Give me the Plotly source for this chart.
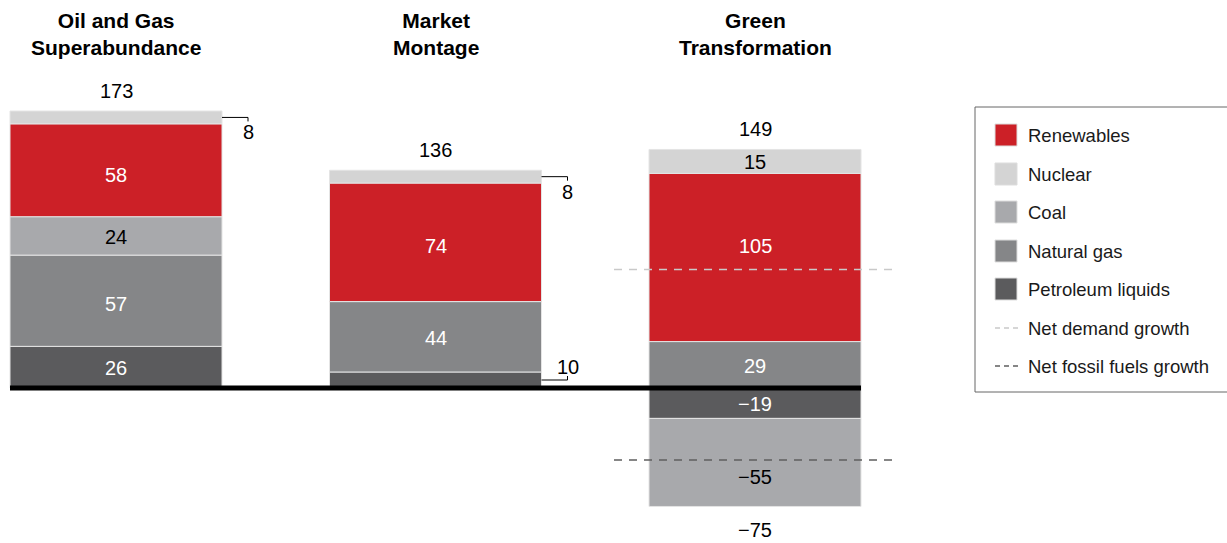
import plotly.graph_objects as go

# Scenario categories and per-source growth values
scenarios = ["Oil and Gas<br>Superabundance", "Market<br>Montage", "Green<br>Transformation"]
petroleum_liquids = [26, 10, -19]
natural_gas = [57, 44, 29]
coal = [24, 0, -55]
renewables = [58, 74, 105]
nuclear = [8, 8, 15]

positive_totals = ["173", "136", "149"]
negative_totals = ["", "", "−75"]

# Net growth reference values (only shown for the third scenario)
net_demand_growth = [None, None, 74]
net_fossil_growth = [None, None, -45]

FONT = "Liberation Sans, Arial, sans-serif"
W_PX, H_PX = 1227, 543
X_PER_PX = 1 / 319.5          # data units per pixel horizontally
Y_PER_PX = 1 / 1.601          # data units per pixel vertically
BAR_W = 212 * X_PER_PX
X_RANGE = [-116 * X_PER_PX, (W_PX - 116) * X_PER_PX]
Y_RANGE = [-(H_PX - 388) * Y_PER_PX, 388 * Y_PER_PX]

xs = list(range(len(scenarios)))

# name, values, fill, label colour, call-out side, label nudges (px, +down)
series = [
    ("Petroleum liquids", petroleum_liquids, "#5b5b5d", "white", "below", [1, 0, 1]),
    ("Natural gas", natural_gas, "#858688", "white", None, [3, 1, 1]),
    ("Coal", coal, "#a8a9ac", "black", None, [1, 0, 15]),
    ("Renewables", renewables, "#cc2027", "white", None, [5, 4, -12]),
    ("Nuclear", nuclear, "#d4d4d4", "black", "above", [0, 0, 1]),
]


def fmt(v):
    return f"{v:d}".replace("-", "−")


def is_small(v):
    return v != 0 and abs(v) < 12


fig = go.Figure()

for name, vals, color, _, _, _ in series:
    fig.add_trace(go.Bar(
        x=xs, y=vals, width=BAR_W, name=name,
        marker=dict(color=color, line=dict(color="#e4e4e4", width=1)),
        showlegend=False, hoverinfo="skip",
    ))

# Net growth dashed reference lines
for vals, color in [(net_demand_growth, "#c9c9c9"), (net_fossil_growth, "#5f5f5f")]:
    for i, v in enumerate(vals):
        if v is None:
            continue
        fig.add_trace(go.Scatter(
            x=[i - 141 * X_PER_PX, i + 140 * X_PER_PX], y=[v, v],
            mode="lines", line=dict(color=color, width=1.6, dash="8px,7px"),
            showlegend=False, hoverinfo="skip",
        ))

shapes = []
annotations = []

# Zero baseline
shapes.append(dict(type="line", xref="x", yref="y",
                   x0=-BAR_W / 2, x1=xs[-1] + BAR_W / 2, y0=0, y1=0,
                   line=dict(color="black", width=5), layer="above"))

# Segment labels (inside) and bracket call-outs (thin segments)
pos_base = [0] * len(xs)
neg_base = [0] * len(xs)
for name, vals, color, txtcol, side, nudges in series:
    for i, v in enumerate(vals):
        if v >= 0:
            lo, hi = pos_base[i], pos_base[i] + v
            pos_base[i] = hi
        else:
            hi, lo = neg_base[i], neg_base[i] + v
            neg_base[i] = lo
        mid = (lo + hi) / 2
        if v == 0:
            continue
        if not is_small(v):
            annotations.append(dict(x=i, y=mid, xref="x", yref="y", text=fmt(v),
                                    yshift=-nudges[i], showarrow=False,
                                    font=dict(family=FONT, size=20, color=txtcol)))
            continue
        if side == "above":
            tick = -4 * Y_PER_PX
            label_y = mid - 15 * Y_PER_PX
        else:
            tick = 4 * Y_PER_PX
            label_y = mid + 13 * Y_PER_PX
        x0 = i + BAR_W / 2
        x1 = x0 + 26 * X_PER_PX
        shapes.append(dict(type="path", xref="x", yref="y",
                           path=f"M{x0},{mid} L{x1},{mid} L{x1},{mid + tick}",
                           line=dict(color="black", width=1)))
        annotations.append(dict(x=x1, y=label_y, xref="x", yref="y", text=fmt(v),
                                showarrow=False, font=dict(family=FONT, size=20, color="black")))

# Scenario titles and totals
for i, title in enumerate(scenarios):
    annotations.append(dict(x=i, y=(388 - 34) * Y_PER_PX, xref="x", yref="y",
                            text=f"<b>{title}</b>", showarrow=False,
                            font=dict(family=FONT, size=21, color="black")))
    annotations.append(dict(x=i, y=pos_base[i], xref="x", yref="y", text=positive_totals[i],
                            yshift=20, showarrow=False,
                            font=dict(family=FONT, size=20, color="black")))
    if negative_totals[i]:
        annotations.append(dict(x=i, y=neg_base[i], xref="x", yref="y", text=negative_totals[i],
                                yshift=-24, showarrow=False,
                                font=dict(family=FONT, size=20, color="black")))


# Legend box
def px(x):
    return x / W_PX


def py(y):
    return 1 - y / H_PX


shapes.append(dict(type="rect", xref="paper", yref="paper",
                   x0=px(975), x1=px(1232), y0=py(392), y1=py(107),
                   line=dict(color="#666666", width=1), fillcolor="white"))

legend_rows = [(s[0], s[2]) for s in [series[3], series[4], series[2], series[1], series[0]]]
row_y = [135, 174, 212, 251, 289, 328, 366]
for (name, color), cy in zip(legend_rows, row_y):
    shapes.append(dict(type="rect", xref="paper", yref="paper",
                       x0=px(995), x1=px(1017), y0=py(cy + 11), y1=py(cy - 11),
                       line=dict(color="#dddddd", width=1), fillcolor=color))
    annotations.append(dict(x=px(1026), y=py(cy), xref="paper", yref="paper", text=name,
                            xanchor="left", yanchor="middle", showarrow=False,
                            font=dict(family=FONT, size=18.5, color="#1a1a1a")))

for (name, color), cy in zip([("Net demand growth", "#c9c9c9"),
                              ("Net fossil fuels growth", "#5f5f5f")], row_y[5:]):
    shapes.append(dict(type="line", xref="paper", yref="paper",
                       x0=px(995), x1=px(1018), y0=py(cy), y1=py(cy),
                       line=dict(color=color, width=1.5, dash="5px,4px")))
    annotations.append(dict(x=px(1026), y=py(cy), xref="paper", yref="paper", text=name,
                            xanchor="left", yanchor="middle", showarrow=False,
                            font=dict(family=FONT, size=18.5, color="#1a1a1a")))

fig.update_layout(
    barmode="relative",
    width=W_PX, height=H_PX,
    margin=dict(l=0, r=0, t=0, b=0),
    paper_bgcolor="white", plot_bgcolor="white",
    xaxis=dict(range=X_RANGE, visible=False, fixedrange=True),
    yaxis=dict(range=Y_RANGE, visible=False, fixedrange=True),
    shapes=shapes, annotations=annotations,
    hovermode=False, showlegend=False,
    font=dict(family=FONT),
)

fig.write_html("out.html", config={"displayModeBar": False})
